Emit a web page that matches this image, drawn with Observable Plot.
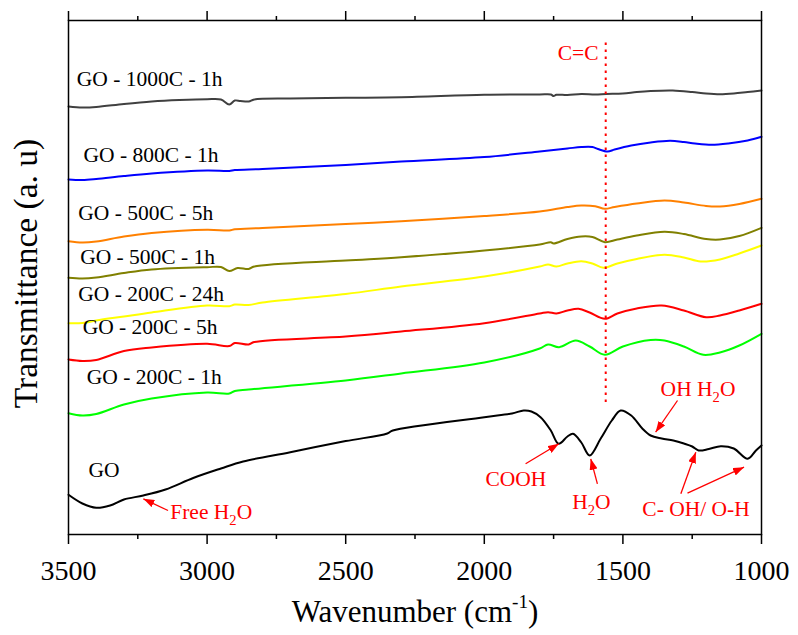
<!DOCTYPE html>
<html>
<head>
<meta charset="utf-8">
<script src="https://cdn.jsdelivr.net/npm/d3@7"></script>
<script src="https://cdn.jsdelivr.net/npm/@observablehq/plot@0.6"></script>
<style>
  html, body { margin: 0; padding: 0; background: #fff; }
  #chart svg { display: block; }
  #chart svg, #chart svg text, #chart svg tspan { font-family: "Liberation Serif", "Times New Roman", serif !important; }
</style>
</head>
<body>
<div id="chart"></div>
<script>
// ---------- Data (transmittance in arbitrary units) ----------
const seriesNames = ["GO - 1000C - 1h", "GO - 800C - 1h", "GO - 500C - 5h", "GO - 500C - 1h",
                     "GO - 200C - 24h", "GO - 200C - 5h", "GO - 200C - 1h", "GO"];
const seriesColors = ["#404040", "#0000ff", "#ff8000", "#808000", "#ffff00", "#ff0000", "#00ff00", "#000000"];

const wnGO1000 = [3500,3450,3400,3300,3200,3100,3000,2950,2920,2900,2880,2850,2830,2700,2500,2300,2000,1800,1760,1750,1740,1700,1650,1600,1560,1500,1450,1400,1320,1250,1200,1150,1100,1050,1000];
const tGO1000  = [428,427,427.5,430.5,433,434.5,435.3,435,430,434,433.5,433,435,436,436.7,437.3,439.7,440,440,438.5,439.7,439.5,440.5,440,440.5,441,442.5,443.5,444,442.5,441,440.3,441,442.5,444];

const wnGO800 = [3500,3450,3400,3300,3200,3000,2920,2900,2800,2500,2300,2000,1800,1700,1650,1610,1590,1555,1530,1470,1400,1330,1280,1240,1180,1120,1050,1000];
const tGO800  = [355,354.5,355.5,358.5,361,364,363.5,364.5,365.5,369.5,373,377.5,383,386,387.5,387.5,385.5,383,385,389,392,393.7,392.5,391,389.7,391,394,397.7];

const wnGO500_5 = [3500,3450,3400,3300,3200,3000,2920,2900,2800,2500,2300,2000,1800,1700,1650,1600,1565,1530,1450,1350,1280,1200,1150,1080,1000];
const tGO500_5  = [293.3,292,293,298,301.5,304.7,304,305.2,306.5,310.5,313.3,318.5,323,327.5,329,328.3,325.7,327.5,331,334,332,328.5,328,330.5,335.7];

const wnGO500_1 = [3500,3450,3400,3300,3200,3000,2950,2920,2890,2850,2830,2500,2300,2000,1800,1760,1750,1700,1650,1610,1565,1520,1450,1350,1280,1200,1150,1080,1000];
const tGO500_1  = [256.7,256,257,261.5,265,267.3,267.5,263.5,266.5,265.5,268,274,277.3,284,290,292.3,291,295.5,298,297.5,292.3,295,299,302.7,300.5,295.5,295,298.5,306.7];

const wnGO200_24 = [3500,3450,3400,3300,3200,3000,2920,2900,2850,2800,2500,2300,2000,1800,1770,1740,1700,1650,1610,1570,1520,1450,1350,1280,1220,1150,1080,1000];
const tGO200_24  = [211.3,211.5,214,218,222,229,228.3,230,229.5,232,240.5,248,258,268,270,268,271,273.3,271,266.7,271,275.5,279.7,277,273,275,281,289];

const wnGO200_5 = [3500,3450,3400,3300,3200,3000,2920,2900,2850,2830,2500,2300,2000,1800,1770,1740,1700,1660,1620,1565,1520,1450,1360,1280,1200,1150,1080,1000];
const tGO200_5  = [175,173.5,174.5,183.5,187,190.7,188.5,191.5,190,192.5,198,203,211.3,221,222.3,221,224,225.7,222,215.7,221,226,229,224,217.3,219,224,230.7];

const wnGO200_1 = [3500,3450,3400,3300,3200,3000,2920,2900,2850,2500,2300,2000,1800,1770,1730,1670,1620,1565,1500,1400,1350,1280,1210,1150,1080,1000];
const tGO200_1  = [121.3,119,120.5,130,136,142,141,143.5,145,154,161,172,186,190,187.3,194,188,179.7,188,194.5,194,188,179.7,182,189,200.7];

const wnGO = [3500,3450,3400,3350,3300,3230,3150,3050,2950,2870,2700,2500,2350,2330,2000,1900,1858,1830,1797,1760,1732,1700,1680,1650,1620,1580,1540,1508,1470,1430,1400,1360,1318,1280,1250,1227,1190,1147,1100,1050,1020,1000];
const tGO  = [39.7,31,26.7,29,35,39,45,56.5,66,73,82.3,93.4,101,104,117.3,121,124,123,117.3,104,90.7,98,100.7,92,79,96,114,124,119,106,99,96,94,91,88,84,85.5,88.3,86,75.7,84,89];

const wnLists = [wnGO1000, wnGO800, wnGO500_5, wnGO500_1, wnGO200_24, wnGO200_5, wnGO200_1, wnGO];
const tLists  = [tGO1000, tGO800, tGO500_5, tGO500_1, tGO200_24, tGO200_5, tGO200_1, tGO];

// series label anchors (wavenumber, transmittance at text baseline)
const labelW = [3470, 3446, 3465, 3458, 3465, 3449, 3434, 3428];
const labelT = [449, 373, 314.7, 270.7, 234, 200.7, 150.7, 57.3];

// tick labels
const majorTicks = [3500, 3000, 2500, 2000, 1500, 1000];
const minorTicks = [3250, 2750, 2250, 1750, 1250];

// red annotations
const ccWavenumber = 1562;
const ccRange = [132, 492];
const annotText   = ["C=C", "COOH", "H₂O", "OH H₂O", "C- OH/ O-H", "Free H₂O"];
const annotW      = [1588, 1996, 1683, 1364, 1430, 3133];
const annotT      = [475, 49, 25.7, 139, 19, 15.7];
const annotAnchor = ["end", "start", "start", "start", "start", "start"];

const arrowW1 = [1851, 1592, 1303, 1291, 1267, 3141];
const arrowT1 = [70.7, 50.7, 134, 40.7, 41.3, 24];
const arrowW2 = [1731, 1616, 1382, 1237, 1063, 3230];
const arrowT2 = [90.7, 75.7, 102.3, 82.3, 67.3, 35.7];

const xTitle = "Wavenumber (cm⁻¹)";
const yTitle = "Transmittance (a. u)";

// ---------- Tables built from the arrays ----------
const rows = seriesNames.flatMap((name, i) =>
  wnLists[i].map((w, j) => ({series: name, w, t: tLists[i][j]})));
const labels = seriesNames.map((name, i) => ({name, w: labelW[i], t: labelT[i]}));
const annots = annotText.map((text, i) => ({text, w: annotW[i], t: annotT[i], anchor: annotAnchor[i]}));
const arrows = arrowW1.map((w1, i) => ({w1, t1: arrowT1[i], w2: arrowW2[i], t2: arrowT2[i]}));

const RED = "#ff0000";
const FONT = '"Liberation Serif", "Times New Roman", serif';
const chart = Plot.plot({
  width: 798,
  height: 635,
  marginLeft: 68,
  marginRight: 37,
  marginTop: 20,
  marginBottom: 101,
  style: {fontFamily: FONT, background: "white", color: "black"},
  x: {domain: [3500, 1000]},
  y: {domain: [0, 514], axis: null},
  color: {domain: seriesNames, range: seriesColors},
  marks: [
    Plot.line(rows, {x: "w", y: "t", z: "series", stroke: "series", strokeWidth: 2, curve: "catmull-rom"}),
    Plot.ruleX([ccWavenumber], {y1: ccRange[0], y2: ccRange[1], stroke: RED, strokeWidth: 2, strokeDasharray: "2.5,4.5"}),
    Plot.text(labels, {x: "w", y: "t", text: "name", textAnchor: "start", lineAnchor: "bottom", fontSize: 21.5, fontFamily: FONT, fill: "black"}),
    Plot.link(arrows, {x1: "w1", y1: "t1", x2: "w2", y2: "t2", stroke: RED, strokeWidth: 1.3}),
    Plot.text(annots.filter(d => d.anchor === "start"), {x: "w", y: "t", text: "text", textAnchor: "start", lineAnchor: "bottom", fontSize: 21.5, fontFamily: FONT, fill: RED}),
    Plot.text(annots.filter(d => d.anchor === "end"), {x: "w", y: "t", text: "text", textAnchor: "end", lineAnchor: "bottom", fontSize: 21.5, fontFamily: FONT, fill: RED}),
    Plot.frame({stroke: "black", strokeWidth: 1.5}),
    Plot.axisX({anchor: "bottom", ticks: majorTicks, tickSize: 10, tickPadding: 16, tickFormat: "d", fontSize: 28, fontFamily: FONT, label: null, strokeWidth: 1.5}),
    Plot.axisX({anchor: "bottom", ticks: minorTicks, tickSize: 5, tickFormat: () => "", label: null, strokeWidth: 1.5}),
    Plot.axisX({anchor: "top", ticks: majorTicks, tickSize: 10, tickFormat: () => "", label: null, strokeWidth: 1.5}),
    Plot.axisX({anchor: "top", ticks: minorTicks, tickSize: 5, tickFormat: () => "", label: null, strokeWidth: 1.5}),
    Plot.text([xTitle], {frameAnchor: "bottom", dy: 87, lineAnchor: "bottom", textAnchor: "middle", fontSize: 31, fontFamily: FONT, fill: "black"}),
    Plot.text([yTitle], {frameAnchor: "left", rotate: -90, dx: -32, dy: -4, lineAnchor: "bottom", textAnchor: "middle", fontSize: 33.5, fontFamily: FONT, fill: "black"})
  ]
});

document.getElementById("chart").appendChild(chart);

// ---------- Post-processing: sub/superscripts and filled arrow heads ----------
function richify(svg) {
  svg.querySelectorAll("text").forEach(node => {
    const s = node.textContent;
    if (!/[₂⁻¹]/.test(s) || node.querySelector("tspan")) return;
    const fs = parseFloat(getComputedStyle(node).fontSize) || 20;
    const parts = s.split(/(₂|⁻¹)/).filter(p => p !== "");
    node.textContent = "";
    let shift = 0;
    for (const p of parts) {
      const ts = document.createElementNS("http://www.w3.org/2000/svg", "tspan");
      let target = 0, txt = p, size = null;
      if (p === "₂") { target = 0.3 * fs; txt = "2"; size = 0.68 * fs; }
      else if (p === "⁻¹") { target = -0.42 * fs; txt = "-1"; size = 0.62 * fs; }
      ts.setAttribute("dy", (target - shift).toFixed(2));
      shift = target;
      if (size) ts.setAttribute("font-size", size.toFixed(2));
      ts.textContent = txt;
      node.appendChild(ts);
    }
  });
}
const svgNode = chart.tagName.toLowerCase() === "svg" ? chart : chart.querySelector("svg");
richify(svgNode);

const svgSel = d3.select(svgNode);
const defs = svgSel.insert("defs", ":first-child");
defs.append("marker")
  .attr("id", "ahead")
  .attr("viewBox", "0 0 11 8")
  .attr("refX", 11).attr("refY", 4)
  .attr("markerWidth", 11).attr("markerHeight", 8)
  .attr("markerUnits", "userSpaceOnUse")
  .attr("orient", "auto")
  .append("path").attr("d", "M0,0L11,4L0,8Z").attr("fill", RED);
svgSel.selectAll('g[aria-label="link"] path').attr("marker-end", "url(#ahead)");
</script>
</body>
</html>
